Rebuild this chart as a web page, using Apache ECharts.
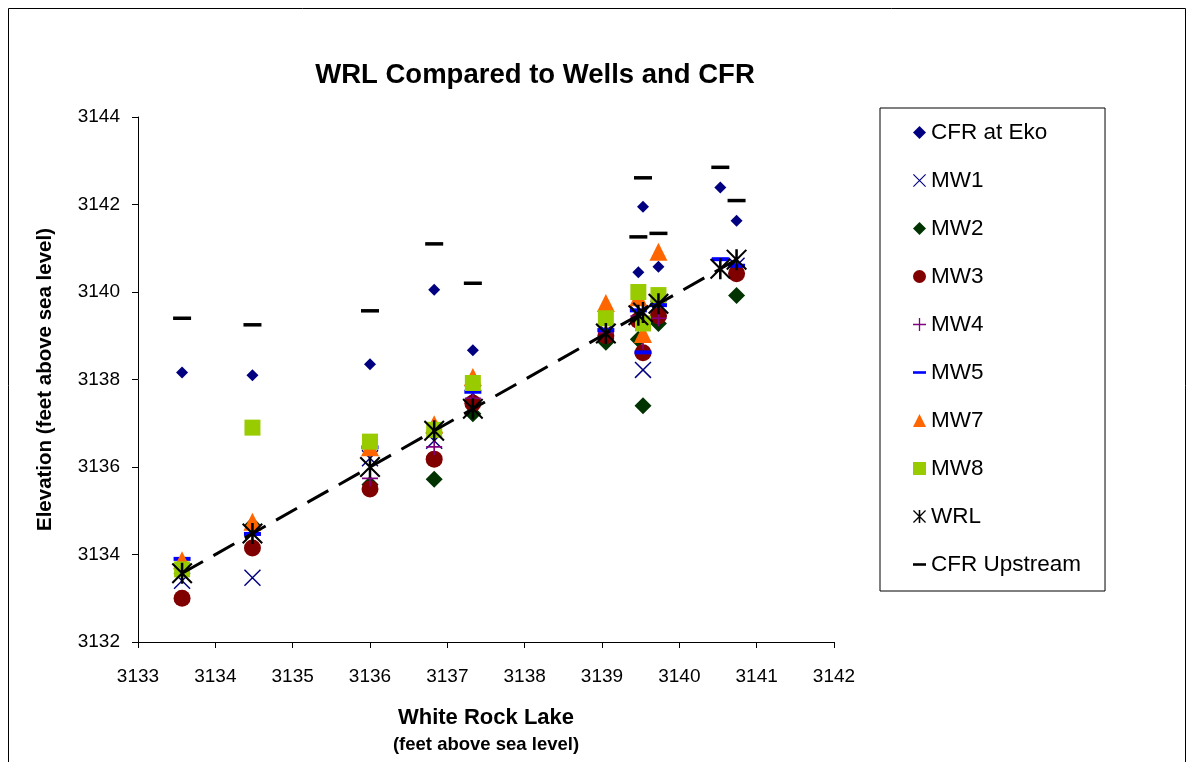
<!DOCTYPE html>
<html>
<head>
<meta charset="utf-8">
<script src="https://cdn.jsdelivr.net/npm/echarts@6/dist/echarts.min.js"></script>
<style>
html,body{margin:0;padding:0;background:#fff;}
#chart{width:1187px;height:762px;}
</style>
</head>
<body>
<div id="chart"></div>
<script>
// White Rock Lake level (x) — WRL is plotted against itself
var wrl      = [3133.57, 3134.48, 3136.00, 3136.83, 3137.33, 3139.05, 3139.47, 3139.53, 3139.73, 3140.53, 3140.74];
var cfrEko   = [3138.16, 3138.10, 3138.35, 3140.05, 3138.67, null,    3140.45, 3141.95, 3140.58, 3142.39, 3141.63];
var mw1      = [3133.40, 3133.47, 3136.20, 3136.60, 3137.68, 3139.10, 3139.50, 3138.22, 3139.62, null,    3140.60];
var mw2      = [null,    3134.67, 3135.60, 3135.72, 3137.22, 3138.85, 3138.92, 3137.40, 3139.28, null,    3139.92];
var mw3      = [3133.00, 3134.15, 3135.50, 3136.18, 3137.46, 3139.00, 3139.35, 3138.61, 3139.45, null,    3140.42];
var mw4      = [null,    3134.45, 3135.74, 3136.46, 3137.57, 3139.07, 3139.45, 3138.87, 3139.40, null,    null];
var mw5      = [3133.90, 3134.47, 3136.45, null,    3137.72, 3139.13, 3139.58, 3138.62, 3139.70, 3140.75, 3140.60];
var mw7      = [3133.87, 3134.75, 3136.45, 3136.98, 3138.06, 3139.75, 3139.88, 3139.04, 3140.92, null,    null];
var mw8      = [3133.66, 3136.90, 3136.58, 3136.85, 3137.92, 3139.40, 3140.00, 3139.28, 3139.93, null,    null];
var upstream = [3139.40, 3139.25, 3139.57, 3141.10, 3140.20, null,    3141.26, 3142.61, 3141.34, 3142.85, 3142.09];

var seriesNames = ['CFR at Eko','MW1','MW2','MW3','MW4','MW5','MW7','MW8','WRL','CFR Upstream'];
var xTicks = [3133, 3142, 1];
var yTicks = [3132, 3144, 2];

var FONT = 'Liberation Sans, Arial, sans-serif';

function pairs(vals){
  var out = [];
  for (var i = 0; i < wrl.length; i++) { if (vals[i] != null) out.push([wrl[i], vals[i]]); }
  return out;
}

var P_X    = 'path://M0,0.6L0.6,0L10,9.4L9.4,10Z M9.4,0L10,0.6L0.6,10L0,9.4Z';
var P_PLUS = 'path://M4.5,0H5.5V10H4.5Z M0,4.5H10V5.5H0Z';
var P_STAR = 'path://M4.4,0H5.6V10H4.4Z M0,0.7L0.7,0L10,9.3L9.3,10Z M9.3,0L10,0.7L0.7,10L0,9.3Z';
var P_DASH = 'path://M0,0H10V2H0Z';

var defs = [
  {name:'CFR at Eko', data:cfrEko, symbol:'diamond', size:12, color:'#000080', icon:'diamond'},
  {name:'MW1', data:mw1, symbol:P_X, size:17, color:'#000080', icon:P_X},
  {name:'MW2', data:mw2, symbol:'diamond', size:17, color:'#003300', icon:'diamond'},
  {name:'MW3', data:mw3, symbol:'circle', size:17, color:'#800000', icon:'circle'},
  {name:'MW4', data:mw4, symbol:P_PLUS, size:16, color:'#800080', icon:P_PLUS},
  {name:'MW5', data:mw5, symbol:'rect', size:[17,4], color:'#0000FF', icon:P_DASH},
  {name:'MW7', data:mw7, symbol:'triangle', size:18, color:'#FF6600', icon:'triangle'},
  {name:'MW8', data:mw8, symbol:'rect', size:16, color:'#99CC00', icon:'rect'},
  {name:'WRL', data:wrl, symbol:P_STAR, size:21, color:'#000000', icon:P_STAR},
  {name:'CFR Upstream', data:upstream, symbol:'rect', size:[18,3.5], color:'#000000', icon:P_DASH}
];

var series = [];
defs.forEach(function(d, idx){
  if (d.name === 'WRL') {
    // dashed line through the WRL points
    series.push({
      name:'WRL trend', type:'line', data:pairs(wrl), showSymbol:false, symbol:'none',
      lineStyle:{color:'#000', width:3, type:[24,12]}, silent:true, z:3
    });
  }
  series.push({
    name:d.name, type:'scatter', data:pairs(d.data), symbol:d.symbol, symbolSize:d.size,
    itemStyle:{color:d.color, opacity:1}, z:2 + (d.name==='WRL'?3:0)
  });
});

function plain(v){ return String(v); }

var chart = echarts.init(document.getElementById('chart'), null, {renderer:'canvas'});
chart.setOption({
  animation:false,
  backgroundColor:'#fff',
  textStyle:{fontFamily:FONT},
  title:{
    text:'WRL Compared to Wells and CFR', left:530, top:56, textAlign:'center',
    textStyle:{fontFamily:FONT, fontWeight:'bold', fontSize:27.5, color:'#000'}
  },
  graphic:[{
    type:'rect', shape:{x:8.5, y:8.5, width:1177, height:800},
    style:{fill:'none', stroke:'#000', lineWidth:1}, silent:true, z:-1
  }],
  legend:{
    orient:'vertical', left:880, top:108,
    data: defs.map(function(d){ return {name:d.name, icon:d.icon}; }),
    itemWidth:13, itemHeight:13, itemGap:25,
    padding:[13, 24, 15, 33],
    borderColor:'#000', borderWidth:1, backgroundColor:'#fff',
    textStyle:{fontFamily:FONT, fontSize:22.5, color:'#000'}
  },
  grid:{left:138, top:117, right:353, bottom:120, containLabel:false},
  xAxis:{
    type:'value', min:xTicks[0], max:xTicks[1], interval:xTicks[2],
    axisLine:{show:true, lineStyle:{color:'#000', width:1}},
    axisTick:{show:true, inside:false, length:6, lineStyle:{color:'#000'}},
    splitLine:{show:false},
    axisLabel:{color:'#000', fontSize:19, fontFamily:FONT, margin:25, formatter:plain},
    name:'{a|White Rock Lake}\n{b|(feet above sea level)}',
    nameLocation:'middle', nameGap:62,
    nameTextStyle:{
      rich:{
        a:{fontFamily:FONT, fontWeight:'bold', fontSize:22, color:'#000', lineHeight:28},
        b:{fontFamily:FONT, fontWeight:'bold', fontSize:18.5, color:'#000', lineHeight:26}
      }
    }
  },
  yAxis:{
    type:'value', min:yTicks[0], max:yTicks[1], interval:yTicks[2],
    axisLine:{show:true, lineStyle:{color:'#000', width:1}},
    axisTick:{show:true, inside:false, length:6, lineStyle:{color:'#000'}},
    splitLine:{show:false},
    axisLabel:{color:'#000', fontSize:19, fontFamily:FONT, margin:18, formatter:plain},
    name:'Elevation (feet above sea level)', nameLocation:'middle', nameGap:82,
    nameTextStyle:{fontFamily:FONT, fontWeight:'bold', fontSize:20.5, color:'#000'}
  },
  series:series
});
</script>
</body>
</html>
